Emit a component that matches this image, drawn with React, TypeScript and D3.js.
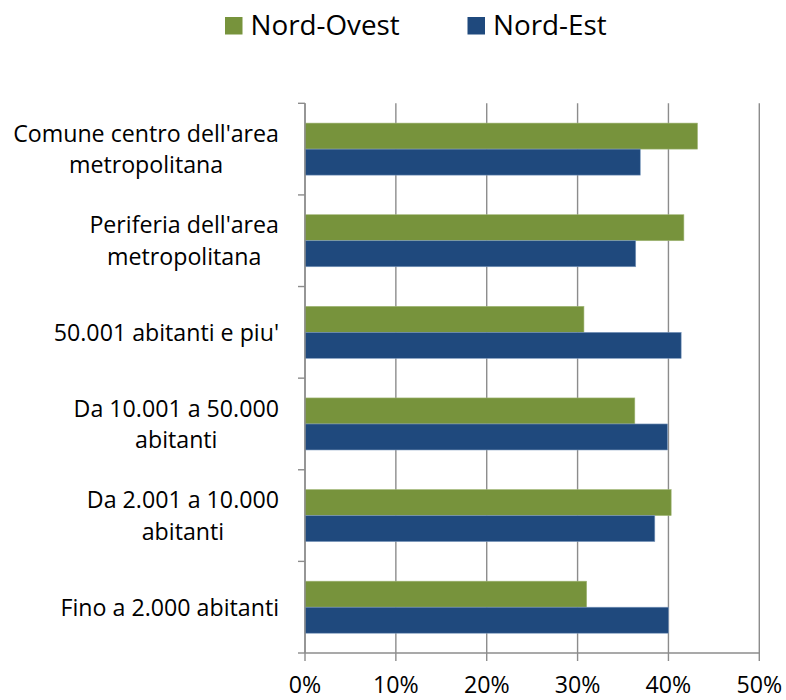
import React from "react";
import * as d3 from "d3";

const categories: string[][] = [
  ["Comune centro dell'area", "metropolitana"],
  ["Periferia dell'area", "metropolitana"],
  ["50.001 abitanti e piu'"],
  ["Da 10.001 a 50.000", "abitanti"],
  ["Da 2.001 a 10.000", "abitanti"],
  ["Fino a 2.000 abitanti"],
];
const seriesNames = ["Nord-Ovest", "Nord-Est"];
const nordOvest = [43.2, 41.7, 30.7, 36.3, 40.3, 31.0];
const nordEst = [36.9, 36.4, 41.4, 39.9, 38.5, 40.0];
const xTicks = [0, 10, 20, 30, 40, 50];
const colors = ["#77933C", "#1F497D"];

const W = 786;
const H = 700;
const FONT = "'Open Sans', sans-serif";

export default function App() {
  const left = 305;
  const right = 759.3;
  const top = 103.3;
  const bottom = 653;
  const x = d3.scaleLinear().domain([0, 50]).range([left, right]);
  const y = d3
    .scaleBand<number>()
    .domain(categories.map((_, i) => i))
    .range([top, bottom])
    .paddingInner(0.432)
    .paddingOuter(0.216);
  const sub = d3.scaleBand<number>().domain([0, 1]).range([0, y.bandwidth()]);
  const series = [nordOvest, nordEst];
  const step = y.step();
  const gridColor = "#8c8c8c";
  const labelRight = 279;
  const labelSize = 23.2;
  const lineH = 31.6;

  return (
    <svg
      width={W}
      height={H}
      style={{ position: "absolute", left: 0, top: 0, background: "#fff" }}
      fontFamily={FONT}
    >
      {/* legend */}
      {seriesNames.map((n, i) => {
        const lx = i === 0 ? 225 : 467.5;
        return (
          <g key={n}>
            <rect x={lx} y={17} width={17.5} height={17.5} fill={colors[i]} />
            <text x={lx + 25.5} y={34.8} fontSize={27.8} fill="#000">
              {n}
            </text>
          </g>
        );
      })}

      {/* gridlines */}
      {xTicks.map((t) => (
        <line
          key={"g" + t}
          x1={x(t)}
          x2={x(t)}
          y1={top}
          y2={bottom + 8}
          stroke={gridColor}
          strokeWidth={1.4}
        />
      ))}
      {/* bars */}
      {series.map((vals, si) =>
        vals.map((v, ci) => (
          <rect
            key={si + "-" + ci}
            x={x(0)}
            y={(y(ci) as number) + (sub(si) as number)}
            width={x(v) - x(0)}
            height={sub.bandwidth()}
            fill={colors[si]}
            stroke={si === 0 ? "#a3b87a" : "#7f9bbf"}
            strokeWidth={0.6}
          />
        ))
      )}
      {/* y axis */}
      <line x1={left} x2={left} y1={top} y2={bottom} stroke={gridColor} strokeWidth={1.4} />
      {d3.range(categories.length + 1).map((i) => (
        <line
          key={"yt" + i}
          x1={left - 7}
          x2={left}
          y1={top + i * step}
          y2={top + i * step}
          stroke={gridColor}
          strokeWidth={1.4}
        />
      ))}
      {/* x axis */}
      <line x1={left} x2={right} y1={bottom} y2={bottom} stroke={gridColor} strokeWidth={1.4} />
      {xTicks.map((t) => (
        <text
          key={"xl" + t}
          x={x(t)}
          y={693}
          textAnchor="middle"
          fontSize={labelSize}
          fill="#000"
        >
          {t + "%"}
        </text>
      ))}
      {/* category labels */}
      {categories.map((lines, ci) => {
        const cy = top + (ci + 0.5) * step;
        const n = lines.length;
        return (
          <CatLabel
            key={"c" + ci}
            lines={lines}
            right={labelRight}
            cy={cy}
            n={n}
            lineH={lineH}
            size={labelSize}
          />
        );
      })}
    </svg>
  );
}

function CatLabel(props: {
  lines: string[];
  right: number;
  cy: number;
  n: number;
  lineH: number;
  size: number;
}) {
  const { lines, right, cy, n, lineH, size } = props;
  const ref = React.useRef<SVGGElement>(null);
  const [blockW, setBlockW] = React.useState<number | null>(null);
  React.useLayoutEffect(() => {
    if (!ref.current) return;
    const texts = Array.from(ref.current.querySelectorAll("text")) as SVGTextElement[];
    const w = d3.max(texts, (t) => t.getComputedTextLength()) || 0;
    setBlockW(w);
  }, []);
  const center = blockW == null ? right : right - blockW / 2;
  return (
    <g ref={ref}>
      {lines.map((l, i) => {
        const baseline = cy + (i - (n - 1) / 2) * lineH + size * 0.36;
        return (
          <text
            key={i}
            x={center}
            y={baseline}
            textAnchor={blockW == null ? "end" : "middle"}
            fontSize={size}
            fill="#000"
          >
            {l}
          </text>
        );
      })}
    </g>
  );
}
